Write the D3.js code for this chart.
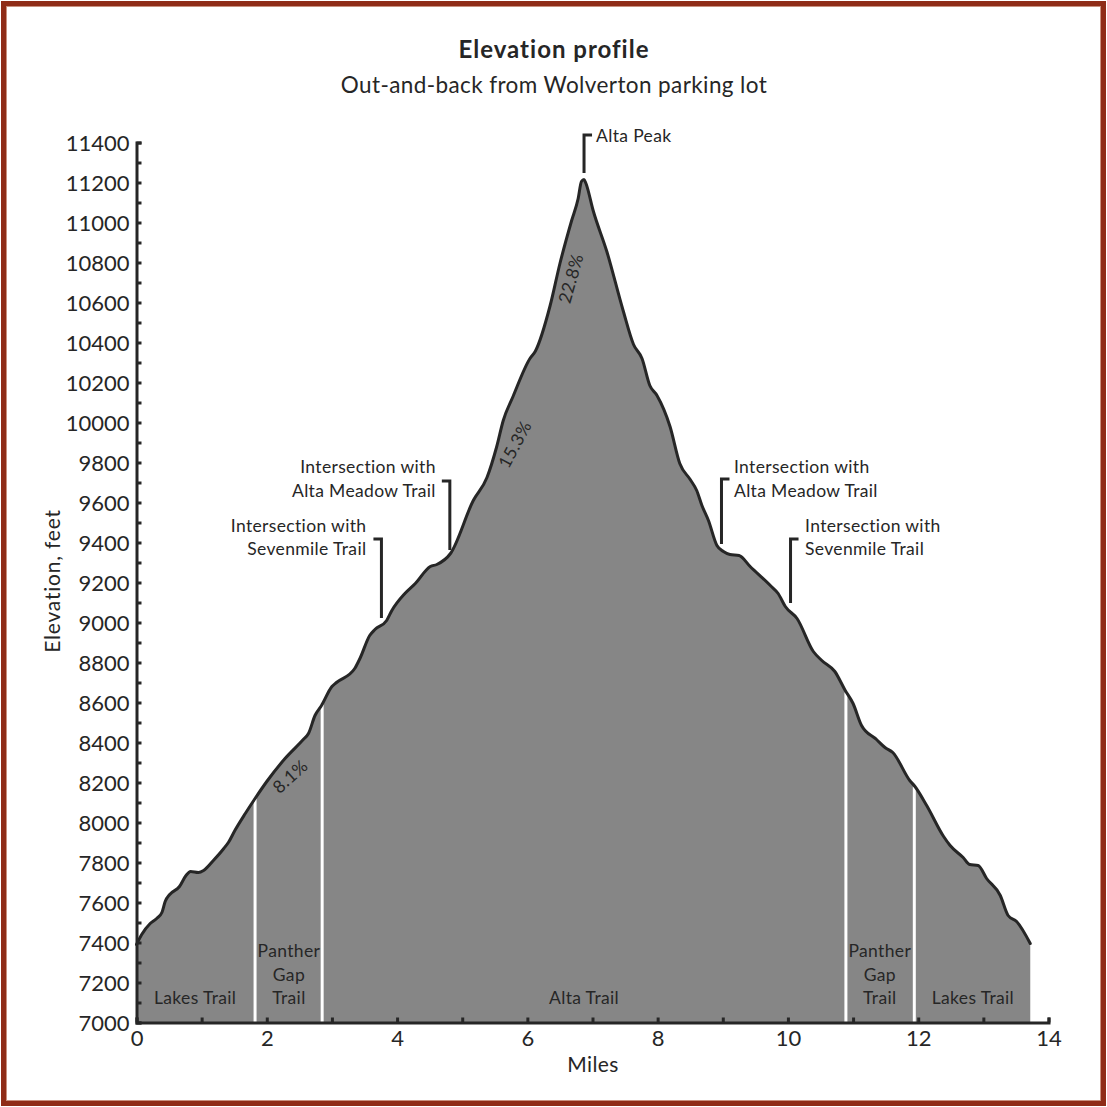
<!DOCTYPE html>
<html lang="en">
<head>
<meta charset="utf-8">
<script src="https://d3js.org/d3.v7.min.js"></script>
<style>
	html, body { margin: 0; padding: 0; background: #fff; }
	svg { display: block; }
	text { font-family: Lato, "Open Sans", sans-serif; fill: #262626; }
	.axis path, .axis line { stroke: #262626; stroke-width: 3; }
	.axis text { font-size: 22px; }
	.note { font-size: 17.5px; letter-spacing: 0.35px; }
</style>
</head>
<body>
<script type="text/javascript">
	var w = 1107;
	var h = 1107;

	// miles along the trail, elevation in feet
	var miles = [0, 0.08, 0.21, 0.31, 0.39, 0.44, 0.51, 0.66, 0.76, 0.83, 0.95, 1.03, 1.18, 1.34, 1.41, 1.51, 1.67, 1.82, 2.00, 2.28,
		2.56, 2.64, 2.74, 2.84, 3.00, 3.07, 3.35, 3.43, 3.58, 3.66, 3.84, 3.92, 4.12, 4.28, 4.51, 4.61, 4.82, 5.17, 5.38, 5.53,
		5.63, 5.78, 6.04, 6.12, 6.35, 6.50, 6.68, 6.78, 6.83, 6.87, 6.90, 7.01, 7.22, 7.47, 7.63, 7.76, 7.88, 7.99, 8.19, 8.34,
		8.50, 8.60, 8.68, 8.78, 8.91, 9.01, 9.11, 9.25, 9.42, 9.73, 9.85, 9.96, 10.14, 10.39, 10.52, 10.72, 10.88, 11.00, 11.13, 11.36,
		11.49, 11.61, 11.87, 11.95, 12.13, 12.39, 12.49, 12.69, 12.79, 12.92, 13.05, 13.26, 13.38, 13.51, 13.72];
	var elevation = [7390, 7440, 7495, 7520, 7550, 7605, 7640, 7680, 7735, 7755, 7750, 7760, 7810, 7870, 7900, 7960, 8045, 8120, 8205, 8320,
		8415, 8445, 8535, 8585, 8680, 8700, 8770, 8820, 8935, 8965, 9010, 9060, 9145, 9195, 9280, 9290, 9345, 9610, 9725, 9880,
		10010, 10130, 10320, 10355, 10585, 10795, 11010, 11120, 11205, 11215, 11195, 11060, 10855, 10560, 10390, 10320, 10185, 10135, 9980, 9795,
		9715, 9660, 9585, 9510, 9385, 9355, 9340, 9335, 9280, 9185, 9145, 9080, 9020, 8855, 8810, 8755, 8660, 8595, 8485, 8415,
		8375, 8350, 8210, 8180, 8085, 7930, 7885, 7825, 7790, 7785, 7720, 7635, 7535, 7505, 7395];

	var xTicks = d3.range(0, 15, 1);
	var xLabels = [0, 2, 4, 6, 8, 10, 12, 14];
	var yTicks = d3.range(7000, 11500, 100);
	var yLabels = d3.range(7000, 11600, 200);

	// white lines between the trails
	var splitMiles = [1.82, 2.85, 10.89, 11.94];
	var splitElev = [8120, 8590, 8650, 8180];

	var trailNames = [["Lakes Trail"], ["Panther", "Gap", "Trail"], ["Alta Trail"], ["Panther", "Gap", "Trail"], ["Lakes Trail"]];
	var trailMiles = [0.90, 2.34, 6.87, 11.41, 12.84];

	var calloutLines = [["Intersection with", "Sevenmile Trail"], ["Intersection with", "Alta Meadow Trail"], ["Alta Peak"], ["Intersection with", "Alta Meadow Trail"], ["Intersection with", "Sevenmile Trail"]];
	var calloutMiles = [3.76, 4.81, 6.87, 8.98, 10.04];
	var calloutTop = [9417, 9707, 11437, 9717, 9417];
	var calloutBottom = [9022, 9362, 11247, 9392, 9097];
	var calloutText = [9454, 9747, 11402, 9747, 9454];
	var calloutSide = [-1, -1, 1, 1, 1];

	var gradeLabels = ["8.1%", "15.3%", "22.8%"];
	var gradeMiles = [2.36, 5.81, 6.67];
	var gradeElev = [8230, 9890, 10720];
	var gradeAngle = [-42, -62, -74];

	var x = d3.scaleLinear().domain([0, 14]).range([136.5, 1048.5]);
	var y = d3.scaleLinear().domain([7000, 11400]).range([1022.5, 142.5]);

	var svg = d3.select("body")
			.append("svg")
			.attr("width", w)
			.attr("height", h);

	// frame
	svg.append("rect").attr("x", 3.5).attr("y", 3.5).attr("width", w - 7).attr("height", h - 7)
		.attr("fill", "none").attr("stroke", "#8f2c17").attr("stroke-width", 5);
	svg.append("rect").attr("x", 6.5).attr("y", 6.5).attr("width", w - 13).attr("height", h - 13)
		.attr("fill", "none").attr("stroke", "#c9917f").attr("stroke-width", 1);

	var area = d3.area()
		.x(function(d, i){ return x(miles[i]); })
		.y0(y(7000))
		.y1(function(d){ return y(d); })
		.curve(d3.curveMonotoneX);
	var line = d3.line()
		.x(function(d, i){ return x(miles[i]); })
		.y(function(d){ return y(d); })
		.curve(d3.curveMonotoneX);

	svg.append("path").attr("d", area(elevation)).attr("fill", "#868686");

	svg.selectAll(".split")
		.data(splitMiles)
		.enter()
		.append("line")
		.attr("class", "split")
		.attr("x1", function(d){ return x(d); })
		.attr("x2", function(d){ return x(d); })
		.attr("y1", function(d, i){ return y(splitElev[i]); })
		.attr("y2", y(7000))
		.attr("stroke", "#fff")
		.attr("stroke-width", 3);

	svg.append("path").attr("d", line(elevation))
		.attr("fill", "none").attr("stroke", "#262626").attr("stroke-width", 3)
		.attr("stroke-linejoin", "round").attr("stroke-linecap", "round");

	// axes, ticks point inward
	var yAxis = d3.axisLeft(y)
		.tickValues(yTicks)
		.tickSizeInner(-5)
		.tickSizeOuter(-5)
		.tickPadding(7)
		.tickFormat(function(d){ return yLabels.indexOf(d) >= 0 ? d : ""; });
	var gy = svg.append("g").attr("class", "axis").attr("transform", "translate(" + x(0) + ",0)").call(yAxis);
	gy.selectAll("text").attr("dy", "0.37em");

	var xAxis = d3.axisBottom(x)
		.tickValues(xTicks)
		.tickSizeInner(-5)
		.tickSizeOuter(-5)
		.tickPadding(8)
		.tickFormat(function(d){ return xLabels.indexOf(d) >= 0 ? d : ""; });
	svg.append("g").attr("class", "axis").attr("transform", "translate(0," + y(7000) + ")").call(xAxis);

	svg.append("text").attr("x", 554).attr("y", 58).attr("text-anchor", "middle")
		.style("font-size", "24px").style("font-weight", "700").style("letter-spacing", "1px").text("Elevation profile");
	svg.append("text").attr("x", 554).attr("y", 93).attr("text-anchor", "middle")
		.style("font-size", "22.5px").style("letter-spacing", "0.4px").text("Out-and-back from Wolverton parking lot");
	svg.append("text").attr("x", 593).attr("y", 1072).attr("text-anchor", "middle")
		.style("font-size", "21px").style("letter-spacing", "0.4px").text("Miles");
	svg.append("text").attr("transform", "translate(60,581) rotate(-90)").attr("text-anchor", "middle")
		.style("font-size", "21px").style("letter-spacing", "0.8px").text("Elevation, feet");

	// trail names, stacked up from the axis
	trailNames.forEach(function(lines, i){
		lines.forEach(function(t, j){
			svg.append("text").attr("class", "note")
				.attr("x", x(trailMiles[i]))
				.attr("y", 1004 - (lines.length - 1 - j) * 23.5)
				.attr("text-anchor", "middle")
				.text(t);
		});
	});

	// callouts
	var calloutGap = [15, 14, 12, 12.5, 14.5];
	calloutMiles.forEach(function(m, i){
		var side = calloutSide[i];
		svg.append("path")
			.attr("d", "M" + (x(m) + side * 8) + "," + y(calloutTop[i]) + "H" + x(m) + "V" + y(calloutBottom[i]))
			.attr("fill", "none").attr("stroke", "#262626").attr("stroke-width", 3);
		calloutLines[i].forEach(function(t, j){
			svg.append("text").attr("class", "note")
				.attr("x", x(m) + side * calloutGap[i])
				.attr("y", y(calloutText[i]) + j * 23.5)
				.attr("text-anchor", side < 0 ? "end" : "start")
				.text(t);
		});
	});

	// grade labels along the slope
	svg.selectAll(".grade")
		.data(gradeLabels)
		.enter()
		.append("text")
		.attr("class", "note grade")
		.attr("text-anchor", "middle")
		.attr("dy", "0.35em")
		.attr("transform", function(d, i){
			return "translate(" + x(gradeMiles[i]) + "," + y(gradeElev[i]) + ") rotate(" + gradeAngle[i] + ")";
		})
		.text(function(d){ return d; });
</script>
</body>
</html>
